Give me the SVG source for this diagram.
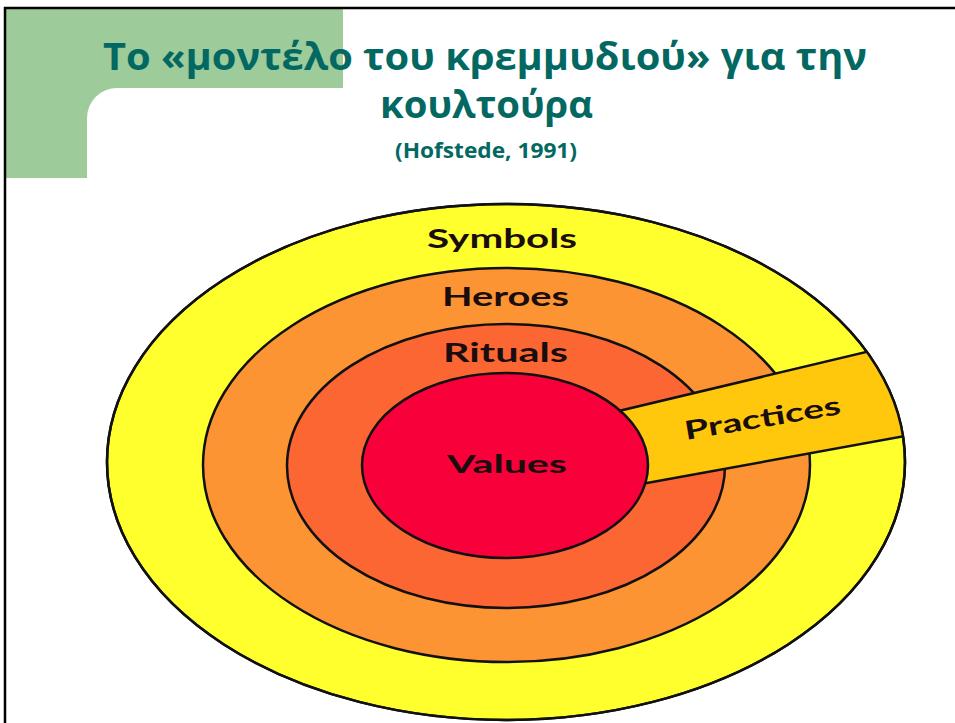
<svg xmlns="http://www.w3.org/2000/svg" width="955" height="723" viewBox="0 0 955 723">
<style>
.title{font-family:"Open Sans","Noto Sans","DejaVu Sans",sans-serif;font-weight:700;fill:#036862;text-anchor:middle}
.lbl{font-family:"Lato","Open Sans","DejaVu Sans",sans-serif;font-weight:700;fill:#1a0d0d}
.ring{stroke:#111;stroke-width:2.5}
</style>
<defs>
<clipPath id="outerClip"><ellipse cx="506" cy="462" rx="399" ry="258"/></clipPath>
</defs>
<rect x="0" y="0" width="955" height="723" fill="#ffffff"/>
<g id="header">
<path d="M5 9 H343 V88 H117 A30 30 0 0 0 87 118 V178 H5 Z" fill="#9DCB99"/>
<line x1="4" y1="8" x2="955" y2="8" stroke="#000" stroke-width="2.5"/>
<line x1="5" y1="7" x2="5" y2="723" stroke="#000" stroke-width="2.5"/>
<text class="title" x="485" y="70" font-size="38" textLength="764" lengthAdjust="spacingAndGlyphs">Το «μοντέλο του κρεμμυδιού» για την</text>
<text class="title" x="486.5" y="118" font-size="38" textLength="213" lengthAdjust="spacingAndGlyphs">κουλτούρα</text>
<text class="title" x="486" y="158" font-size="21" textLength="182" lengthAdjust="spacingAndGlyphs">(Hofstede, 1991)</text>
</g>
<g id="symbols">
<ellipse class="ring" cx="506" cy="462" rx="399" ry="258" fill="#FFFF2E"/>
<text class="lbl" x="427" y="248" font-size="26" textLength="150" lengthAdjust="spacingAndGlyphs">Symbols</text>
</g>
<g id="heroes">
<ellipse class="ring" cx="506.5" cy="465" rx="303.5" ry="197" fill="#FD9433"/>
<text class="lbl" x="442" y="306" font-size="26" textLength="127" lengthAdjust="spacingAndGlyphs">Heroes</text>
</g>
<g id="rituals">
<ellipse class="ring" cx="506" cy="466" rx="219" ry="142" fill="#FC6633"/>
<text class="lbl" x="443" y="362" font-size="26" textLength="125" lengthAdjust="spacingAndGlyphs">Rituals</text>
</g>
<g id="practices">
<g clip-path="url(#outerClip)">
<polygon points="560,425 960,329.6 960,426.1 560,498.8" fill="#FFC80C"/>
<line x1="560" y1="425" x2="960" y2="329.6" stroke="#111" stroke-width="2.5"/>
<line x1="560" y1="498.8" x2="960" y2="426.1" stroke="#111" stroke-width="2.5"/>
</g>
<ellipse cx="506" cy="462" rx="399" ry="258" fill="none" stroke="#111" stroke-width="2.5"/>
<text class="lbl" x="764" y="427" font-size="26" text-anchor="middle" textLength="158" lengthAdjust="spacingAndGlyphs" transform="rotate(-9.5 764 427)">Practices</text>
</g>
<g id="values">
<ellipse class="ring" cx="505" cy="465.5" rx="143" ry="92.5" fill="#F8003A"/>
<text class="lbl" x="447" y="473" font-size="25" textLength="120" lengthAdjust="spacingAndGlyphs">Values</text>
</g>
</svg>
